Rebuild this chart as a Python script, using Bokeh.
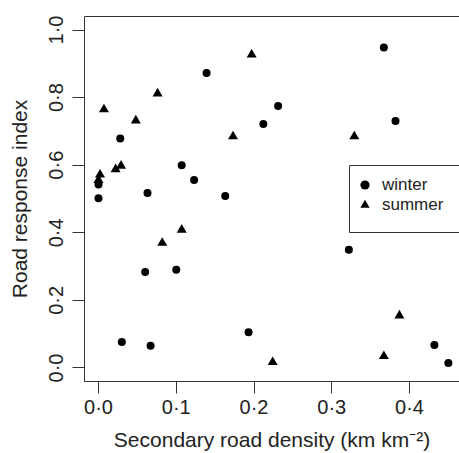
from bokeh.plotting import figure
from bokeh.models import FixedTicker, LinearAxis, Legend, LegendItem, Range1d, BoxAnnotation
from bokeh.embed import file_html
from bokeh.resources import INLINE

# ---- data ----
winter_x = [0.000, 0.000, 0.028, 0.063, 0.107, 0.123, 0.139, 0.163, 0.367, 0.231,
            0.212, 0.382, 0.060, 0.100, 0.030, 0.067, 0.322, 0.193, 0.432, 0.450]
winter_y = [0.502, 0.543, 0.679, 0.518, 0.600, 0.556, 0.873, 0.509, 0.948, 0.775,
            0.722, 0.731, 0.284, 0.291, 0.077, 0.066, 0.350, 0.106, 0.068, 0.015]

summer_x = [0.007, 0.048, 0.076, 0.002, 0.000, 0.022, 0.029, 0.107, 0.082, 0.197,
            0.173, 0.329, 0.387, 0.224, 0.367]
summer_y = [0.765, 0.732, 0.812, 0.572, 0.556, 0.588, 0.598, 0.409, 0.370, 0.927,
            0.685, 0.685, 0.155, 0.017, 0.035]

x_ticks = [0.0, 0.1, 0.2, 0.3, 0.4]
x_tick_labels = ["0·0", "0·1", "0·2", "0·3", "0·4"]
y_ticks = [0.0, 0.2, 0.4, 0.6, 0.8, 1.0]
y_tick_labels = ["0·0", "0·2", "0·4", "0·6", "0·8", "1·0"]

x_title = "Secondary road density (km km\u207b\u00b2)"
y_title = "Road response index"
series_labels = ["winter", "summer"]

FONT = "Liberation Sans"
INK = "#222222"
LINE = "#333333"

p = figure(width=459, height=453, output_backend="svg", toolbar_location=None,
           x_range=Range1d(-0.018, 0.4643), y_range=Range1d(-0.04, 1.04),
           min_border_left=84, min_border_right=0, min_border_top=16, min_border_bottom=72,
           x_axis_label=x_title, y_axis_label=y_title)
p.outline_line_color = None
p.xgrid.visible = False
p.ygrid.visible = False
p.background_fill_color = "white"
p.border_fill_color = "white"

p.xaxis.ticker = FixedTicker(ticks=x_ticks)
p.xaxis.major_label_overrides = dict(zip(x_ticks, x_tick_labels))
p.yaxis.ticker = FixedTicker(ticks=y_ticks)
p.yaxis.major_label_overrides = dict(zip(y_ticks, y_tick_labels))
p.yaxis.major_label_orientation = "vertical"

for ax in (p.xaxis[0], p.yaxis[0]):
    ax.major_tick_out = 12
    ax.major_tick_in = 0
    ax.minor_tick_line_color = None
    ax.axis_line_color = LINE
    ax.axis_line_width = 1
    ax.major_tick_line_color = LINE
    ax.major_tick_line_width = 1
    ax.major_label_text_font = FONT
    ax.major_label_text_font_size = "20px"
    ax.major_label_text_color = INK
    ax.axis_label_text_font = FONT
    ax.axis_label_text_font_size = "21px"
    ax.axis_label_text_font_style = "normal"
    ax.axis_label_text_color = INK

p.xaxis.major_label_standoff = 2
p.xaxis.axis_label_standoff = 7
p.yaxis.major_label_standoff = 5
p.yaxis.axis_label_standoff = 12

# top border of the box
top = LinearAxis(ticker=FixedTicker(ticks=[]), major_tick_out=0, major_tick_in=0,
                 minor_tick_out=0, minor_tick_in=0, major_label_standoff=0,
                 major_label_text_font_size="0px", axis_line_color=LINE, axis_line_width=1)
p.add_layout(top, "above")

r_w = p.scatter(winter_x, winter_y, marker="circle", size=8,
                fill_color="black", line_color=None)
r_s = p.scatter(summer_x, summer_y, marker="triangle", size=10,
                fill_color="black", line_color=None)

# legend frame (screen units, relative to the plot frame)
box = BoxAnnotation(left=265, right=600, bottom=149, top=216,
                    left_units="screen", right_units="screen",
                    bottom_units="screen", top_units="screen",
                    fill_color="white", fill_alpha=1.0,
                    line_color=LINE, line_width=1, line_alpha=1.0)
p.add_layout(box)

legend_rows = [(series_labels[0], r_w, 185), (series_labels[1], r_s, 165)]
for label, rend, ybot in legend_rows:
    lg = Legend(items=[LegendItem(label=label, renderers=[rend])],
                location=(269, ybot), glyph_width=23, glyph_height=23,
                padding=0, spacing=0, label_standoff=6, margin=0,
                label_text_font=FONT, label_text_font_size="17px", label_text_color=INK,
                border_line_color=None, background_fill_alpha=0.0)
    p.add_layout(lg)

open("out.html", "w").write(file_html(p, INLINE))
